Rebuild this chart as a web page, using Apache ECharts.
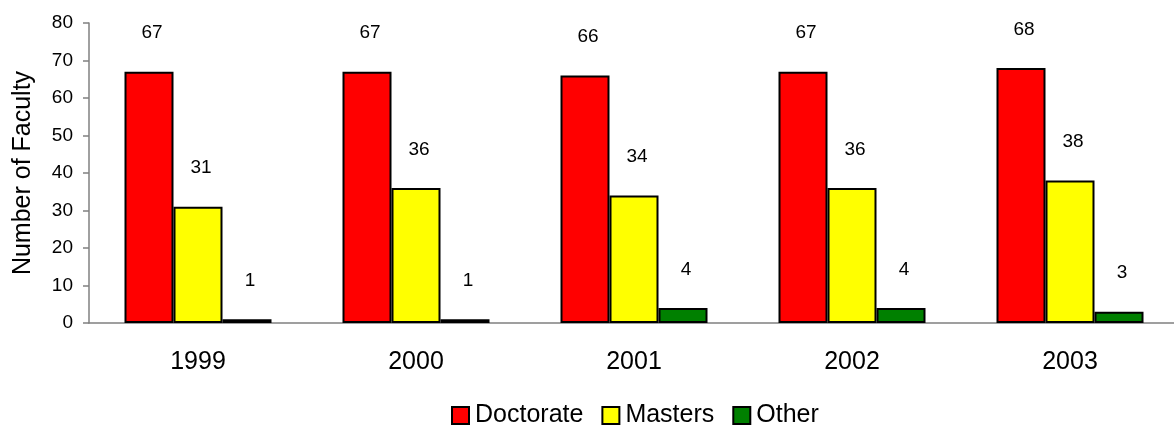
<!DOCTYPE html>
<html>
<head>
<meta charset="utf-8">
<script src="https://cdn.jsdelivr.net/npm/echarts@6/dist/echarts.min.js"></script>
<style>html,body{margin:0;padding:0;background:#fff}#c{width:1174px;height:426px}</style>
</head>
<body>
<div id="c"></div>
<script>
const categories = ['1999', '2000', '2001', '2002', '2003'];
const doctorate = [67, 67, 66, 67, 68];
const masters = [31, 36, 34, 36, 38];
const other = [1, 1, 4, 4, 3];
const yTicks = { min: 0, max: 80, interval: 10 };

const FONT = '"Liberation Sans", Arial, sans-serif';
const chart = echarts.init(document.getElementById('c'), null, { renderer: 'canvas' });

function series(name, data, color) {
  return {
    name: name,
    type: 'bar',
    data: data,
    barWidth: 49,
    barGap: '0%',
    itemStyle: { color: color, borderColor: '#000', borderWidth: 2 },
    label: {
      show: true,
      position: 'top',
      distance: 29,
      offset: [3, 0],
      color: '#000',
      fontFamily: FONT,
      fontSize: 19
    },
    emphasis: { disabled: true },
    animation: false
  };
}

chart.setOption({
  animation: false,
  backgroundColor: '#fff',
  grid: { left: 89, top: 23, width: 1090, bottom: 103, containLabel: false, outerBoundsMode: 'none' },
  legend: {
    left: 451,
    top: 403,
    padding: 0,
    itemWidth: 17,
    itemHeight: 17,
    itemGap: 18,
    icon: 'rect',
    textStyle: { fontFamily: FONT, fontSize: 25, color: '#000', padding: [0, 0, 0, 1] },
    itemStyle: { borderColor: '#000', borderWidth: 2 },
    data: ['Doctorate', 'Masters', 'Other']
  },
  xAxis: {
    type: 'category',
    data: categories,
    axisLine: { lineStyle: { color: '#808080', width: 1.5 } },
    axisTick: { show: false },
    axisLabel: { fontFamily: FONT, fontSize: 25, color: '#000', margin: 27 },
    splitLine: { show: false }
  },
  yAxis: {
    type: 'value',
    min: yTicks.min,
    max: yTicks.max,
    interval: yTicks.interval,
    name: 'Number of Faculty',
    nameLocation: 'middle',
    nameGap: 53,
    nameTextStyle: { fontFamily: FONT, fontSize: 25, color: '#000' },
    axisLine: { show: true, lineStyle: { color: '#808080', width: 1.5 } },
    axisTick: { show: true, inside: false, length: 6, lineStyle: { color: '#808080', width: 1.5 } },
    axisLabel: { fontFamily: FONT, fontSize: 19, color: '#000', margin: 16 },
    splitLine: { show: false }
  },
  series: [
    series('Doctorate', doctorate, '#FF0000'),
    series('Masters', masters, '#FFFF00'),
    series('Other', other, '#008000')
  ]
});
</script>
</body>
</html>
